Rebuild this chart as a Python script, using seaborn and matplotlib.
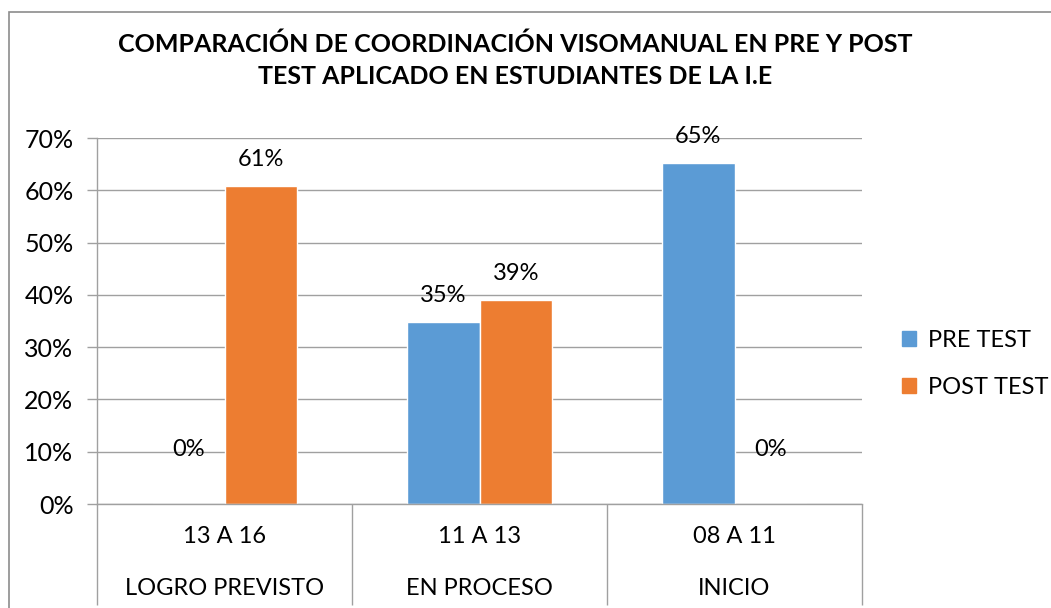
import pandas as pd
import seaborn as sns
import matplotlib.pyplot as plt
from matplotlib.patches import Rectangle, Patch

# data (fractions of 23 students)
rangos = ["13 A 16", "11 A 13", "08 A 11"]
niveles = ["LOGRO PREVISTO", "EN PROCESO", "INICIO"]
pre_test = [0.0, 0.348, 0.652]
post_test = [0.609, 0.391, 0.0]
series = ["PRE TEST", "POST TEST"]
colores = ["#5B9BD5", "#ED7D31"]
y_ticks = [0, 0.1, 0.2, 0.3, 0.4, 0.5, 0.6, 0.7]

titulo = ("COMPARACIÓN DE COORDINACIÓN VISOMANUAL EN PRE Y POST\n"
          "TEST APLICADO EN ESTUDIANTES DE LA I.E")

sns.set_theme(style="white")
plt.rcParams['font.family'] = ['Lato', 'DejaVu Sans']
plt.rcParams['text.color'] = 'black'
plt.rcParams['xtick.labelcolor'] = 'black'
plt.rcParams['ytick.labelcolor'] = 'black'

# long table for seaborn
df = pd.DataFrame({
    "rango": rangos * 2,
    "valor": pre_test + post_test,
    "prueba": [series[0]] * 3 + [series[1]] * 3,
})

fig = plt.figure(figsize=(10.51, 6.08), dpi=100)
ax = fig.add_axes([97 / 1051, 1 - 504 / 608, 765 / 1051, 366 / 608])

sns.barplot(data=df, x="rango", y="valor", hue="prueba", palette=colores,
            width=0.57, saturation=1, ax=ax, legend=False)

gris = "#a0a0a0"
ax.set_ylim(0, 0.7)
ax.set_xlim(-0.5, 2.5)
ax.set_yticks(y_ticks)
ax.set_yticklabels([f"{int(round(t * 100))}%" for t in y_ticks], fontsize=18)
ax.yaxis.grid(True, color=gris, lw=1)
ax.set_axisbelow(True)
ax.tick_params(axis="y", length=7, color=gris, width=1, pad=10, left=True)
ax.tick_params(axis="x", length=0, pad=16, labelsize=17)
ax.set_xlabel("")
ax.set_ylabel("")
for s in ["top", "right"]:
    ax.spines[s].set_visible(False)
for s in ["left", "bottom"]:
    ax.spines[s].set_color(gris)
    ax.spines[s].set_linewidth(1)

# value labels
for cont in ax.containers:
    for bar in cont:
        h = bar.get_height()
        off = 39 if h == 0 else 19
        ax.annotate(f"{int(round(h * 100))}%",
                    (bar.get_x() + bar.get_width() / 2, h),
                    xytext=(0, off), textcoords="offset points",
                    ha="center", va="center", fontsize=17, color="black")

# second level of category labels + separators
tr = ax.get_xaxis_transform()
for i, nivel in enumerate(niveles):
    ax.text(i, -0.232, nivel, transform=tr, ha="center", va="center",
            fontsize=17, color="black")
ax.vlines([-0.5, 0.5, 1.5, 2.5], -0.276, 0, transform=tr, colors=gris,
          lw=1, clip_on=False)

fig.text(515 / 1051, 1 - 60 / 608, titulo, ha="center", va="center",
         fontsize=18, fontweight="bold", linespacing=1.45, color="black")

handles = [Patch(color=c) for c in colores]
fig.legend(handles, series, loc="center left",
           bbox_to_anchor=(902 / 1051, 1 - 364 / 608), frameon=False,
           fontsize=17, handlelength=0.6, handleheight=0.6,
           labelspacing=1.1, handletextpad=0.5, borderpad=0, borderaxespad=0,
           labelcolor="black")

# chart border (cropped at right and bottom)
fig.patches.append(Rectangle((9 / 1051, -0.05), 1.1, 1 - 12 / 608 + 0.05,
                             transform=fig.transFigure, fill=False,
                             edgecolor="#8c8c8c", lw=1.2))

fig.savefig("out.png", dpi=100)
